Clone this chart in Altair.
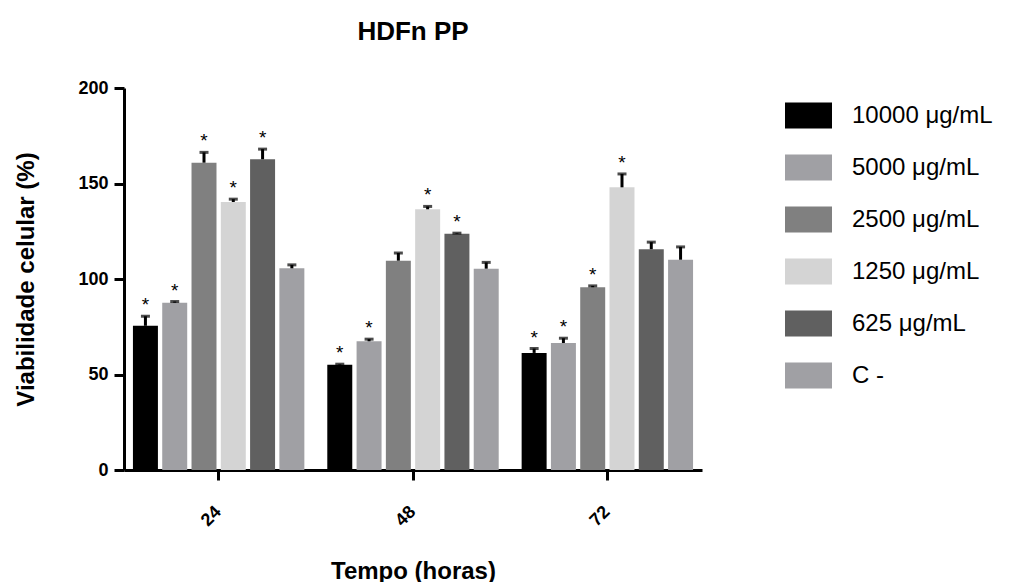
import altair as alt
import pandas as pd

FONT = "Liberation Sans"

times = ["24", "48", "72"]
concs = ["10000 μg/mL", "5000 μg/mL", "2500 μg/mL", "1250 μg/mL", "625 μg/mL", "C -"]
colors = ["#000000", "#a0a0a4", "#808080", "#d4d4d4", "#606060", "#a0a0a4"]

means_24 = [75.5, 87.6, 160.9, 140.3, 162.7, 105.6]
errtop_24 = [80.5, 88.2, 166.3, 141.8, 168.0, 107.4]
stars_24 = [1, 1, 1, 1, 1, 0]

means_48 = [55.1, 67.4, 109.6, 136.5, 123.7, 105.4]
errtop_48 = [55.4, 68.5, 113.6, 138.0, 124.0, 108.7]
stars_48 = [1, 1, 0, 1, 1, 0]

means_72 = [61.3, 66.5, 95.7, 148.0, 115.6, 110.1]
errtop_72 = [63.6, 69.0, 96.4, 155.0, 119.3, 116.8]
stars_72 = [1, 1, 1, 1, 0, 0]

rows = []
for t, m, e, s in [("24", means_24, errtop_24, stars_24),
                   ("48", means_48, errtop_48, stars_48),
                   ("72", means_72, errtop_72, stars_72)]:
    for c, mv, ev, sv in zip(concs, m, e, s):
        rows.append({"time": t, "conc": c, "value": mv, "err": ev, "star": sv})
df = pd.DataFrame(rows)

yscale = alt.Scale(domain=[0, 200], nice=False)
yaxis = alt.Axis(
    title="Viabilidade celular (%)", values=[0, 50, 100, 150, 200], grid=False,
    domainWidth=3, domainColor="black", tickWidth=3, tickColor="black", tickSize=10,
    labelFont=FONT, labelFontSize=18, labelFontWeight="bold", labelColor="black",
    labelPadding=6, titleFont=FONT, titleFontSize=24, titleFontWeight="bold",
    titleColor="black", titleAngle=270, titleX=-98, titleY=191,
    titleAlign="center", titleBaseline="middle",
)
xaxis = alt.Axis(
    title="Tempo (horas)", labelAngle=315, labelAlign="right", labelBaseline="middle",
    labelPadding=29, domainWidth=3, domainColor="black", tickWidth=3, tickColor="black",
    tickSize=10, labelFont=FONT, labelFontSize=18, labelFontWeight="bold",
    labelColor="black", titleFont=FONT, titleFontSize=24, titleFontWeight="bold",
    titleColor="black", titleX=289, titleY=108, titleAlign="center",
    titleBaseline="alphabetic",
)

base = alt.Chart(df).encode(
    x=alt.X("time:N", sort=times, axis=xaxis,
            scale=alt.Scale(paddingInner=0.118, paddingOuter=0.046)),
    xOffset=alt.XOffset("conc:N", sort=concs,
                        scale=alt.Scale(paddingInner=0.147, paddingOuter=0)),
)

bars = base.mark_bar().encode(
    y=alt.Y("value:Q", scale=yscale, axis=yaxis),
    color=alt.Color(
        "conc:N", sort=concs, scale=alt.Scale(domain=concs, range=colors),
        legend=alt.Legend(
            title=None, orient="none", legendX=661, legendY=4,
            symbolType="M-1,-0.553H1V0.553H-1Z", symbolSize=2209,
            symbolStrokeWidth=0, symbolOpacity=1,
            labelFont=FONT, labelFontSize=24, labelColor="black",
            labelOffset=20, rowPadding=15, padding=0, labelLimit=300,
        ),
    ),
)

stems = base.mark_rule(color="black", strokeWidth=3).encode(
    y=alt.Y("value:Q", scale=yscale, axis=yaxis), y2="err:Q"
)
caps = base.mark_tick(color="black", size=9, thickness=3).encode(
    y=alt.Y("err:Q", scale=yscale, axis=yaxis)
)
stars = base.transform_filter("datum.star == 1").mark_text(
    text="*", font=FONT, fontSize=19, dy=-5, baseline="alphabetic", color="black"
).encode(y=alt.Y("err:Q", scale=yscale, axis=yaxis))

chart = alt.layer(bars, stems, caps, stars).properties(
    width=578, height=382, background="white",
    title=alt.TitleParams("HDFn PP", font=FONT, fontSize=26, fontWeight="bold",
                          color="black", anchor="middle", frame="group",
                          baseline="alphabetic", offset=13),
    autosize=alt.AutoSizeParams(type="none"),
    padding={"left": 124, "top": 88, "right": 331, "bottom": 112},
).configure_view(strokeOpacity=0, strokeWidth=0, stroke="transparent")

chart.save("out.html", embed_options={"renderer": "svg", "actions": False})
